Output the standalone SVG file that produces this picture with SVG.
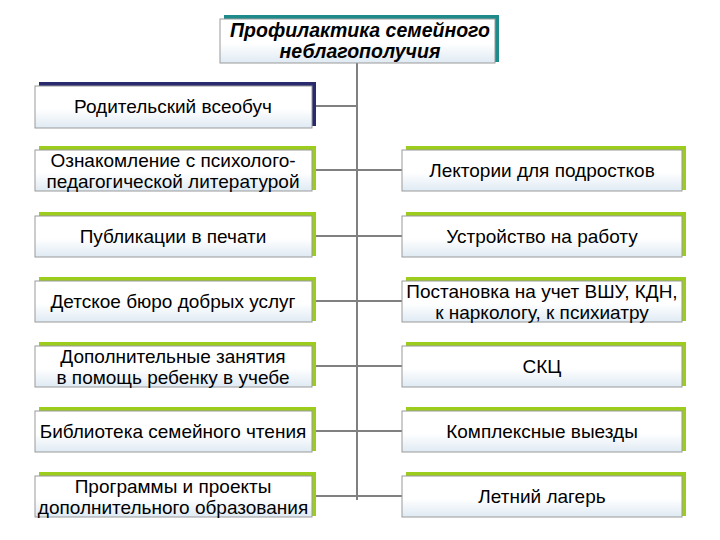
<svg xmlns="http://www.w3.org/2000/svg" width="720" height="540" viewBox="0 0 720 540">
<defs>
<linearGradient id="g" x1="0" y1="0" x2="0" y2="1"><stop offset="0" stop-color="#ffffff"/><stop offset="0.55" stop-color="#ffffff"/><stop offset="1" stop-color="#dfeaf3"/></linearGradient>
<style>
.m{fill:url(#g);stroke:#9a9a9a;stroke-width:1}
.sg{fill:#9ccc1c}
.sn{fill:#2a2a6e}
.st{fill:#1f8a8a}
text{font-family:"Liberation Sans",Arial,sans-serif;font-size:19px;fill:#000;text-anchor:middle}
.t{font-weight:bold;font-style:italic;font-size:19.5px}
.c line{stroke:#808080;stroke-width:2}
</style>
</defs>
<rect width="720" height="540" fill="#fff"/>
<g class="c">
<line x1="357" y1="63" x2="357" y2="500"/>
<line x1="313" y1="106" x2="357" y2="106"/>
<line x1="313" y1="170" x2="402" y2="170"/>
<line x1="313" y1="236" x2="402" y2="236"/>
<line x1="313" y1="301" x2="402" y2="301"/>
<line x1="313" y1="366" x2="402" y2="366"/>
<line x1="313" y1="431" x2="402" y2="431"/>
<line x1="313" y1="496" x2="402" y2="496"/>
</g>
<g id="top"><rect class="st" x="224" y="15" width="275" height="47"/><rect class="m" x="220" y="19" width="275" height="44"/>
<text class="t" x="360" y="37">Профилактика семейного</text><text class="t" x="360" y="58">неблагополучия</text></g>
<g id="l0"><rect class="sn" x="39" y="82" width="277" height="44"/><rect class="m" x="35" y="86" width="277" height="42"/><text x="173" y="113">Родительский всеобуч</text></g>
<g id="l1"><rect class="sg" x="39" y="146" width="277" height="44"/><rect class="m" x="35" y="150" width="277" height="41"/><text x="173" y="167">Ознакомление с психолого-</text><text x="173" y="188">педагогической литературой</text></g>
<g id="l2"><rect class="sg" x="39" y="212" width="277" height="44"/><rect class="m" x="35" y="216" width="277" height="41"/><text x="173" y="243">Публикации в печати</text></g>
<g id="l3"><rect class="sg" x="39" y="277" width="277" height="44"/><rect class="m" x="35" y="281" width="277" height="41"/><text x="173" y="308">Детское бюро добрых услуг</text></g>
<g id="l4"><rect class="sg" x="39" y="342" width="277" height="44"/><rect class="m" x="35" y="346" width="277" height="41"/><text x="173" y="363">Дополнительные занятия</text><text x="173" y="384">в помощь ребенку в учебе</text></g>
<g id="l5"><rect class="sg" x="39" y="407" width="277" height="44"/><rect class="m" x="35" y="411" width="277" height="41"/><text x="173" y="438">Библиотека семейного чтения</text></g>
<g id="l6"><rect class="sg" x="39" y="472" width="277" height="44"/><rect class="m" x="35" y="476" width="277" height="41"/><text x="173" y="493">Программы и проекты</text><text x="173" y="514">дополнительного образования</text></g>
<g id="r1"><rect class="sg" x="406" y="146" width="280" height="44"/><rect class="m" x="402" y="150" width="280" height="41"/><text x="542" y="177">Лектории для подростков</text></g>
<g id="r2"><rect class="sg" x="406" y="212" width="280" height="44"/><rect class="m" x="402" y="216" width="280" height="41"/><text x="542" y="243">Устройство на работу</text></g>
<g id="r3"><rect class="sg" x="406" y="277" width="280" height="44"/><rect class="m" x="402" y="281" width="280" height="41"/><text x="542" y="298">Постановка на учет ВШУ, КДН,</text><text x="542" y="319">к наркологу, к психиатру</text></g>
<g id="r4"><rect class="sg" x="406" y="342" width="280" height="44"/><rect class="m" x="402" y="346" width="280" height="41"/><text x="542" y="373">СКЦ</text></g>
<g id="r5"><rect class="sg" x="406" y="407" width="280" height="44"/><rect class="m" x="402" y="411" width="280" height="41"/><text x="542" y="438">Комплексные выезды</text></g>
<g id="r6"><rect class="sg" x="406" y="472" width="280" height="44"/><rect class="m" x="402" y="476" width="280" height="41"/><text x="542" y="503">Летний лагерь</text></g>
</svg>
